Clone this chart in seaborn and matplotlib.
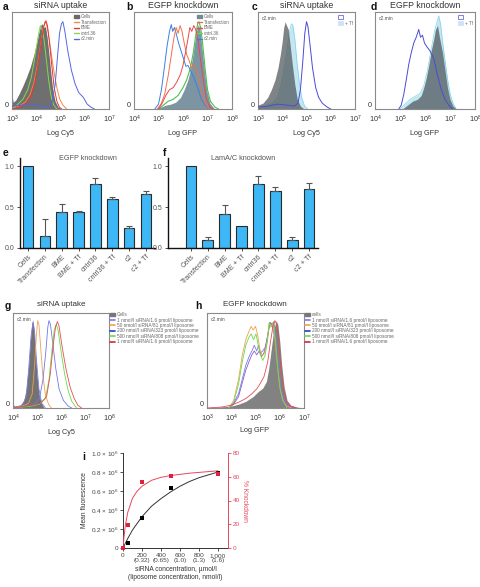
import numpy as np
import matplotlib
matplotlib.use("Agg")
import matplotlib.pyplot as plt
import seaborn as sns
from matplotlib.patches import Patch
from matplotlib.lines import Line2D
from matplotlib.ticker import NullLocator, LogLocator

# ---------------- data ----------------
# Histogram curves: (log10 intensity, relative count)
a_cells = [(3.0, 0.14), (3.05, 0.07), (3.15, 0.09), (3.3, 0.16), (3.45, 0.24), (3.6, 0.33), (3.75, 0.43),
           (3.9, 0.56), (4.0, 0.66), (4.1, 0.78), (4.18, 0.86), (4.24, 0.88), (4.3, 0.84), (4.38, 0.85),
           (4.45, 0.74), (4.52, 0.58), (4.6, 0.38), (4.68, 0.2), (4.78, 0.08), (4.9, 0.02), (5.05, 0.0)]
a_transfection = [(3.0, 0.0), (3.3, 0.03), (3.55, 0.07), (3.75, 0.15), (3.9, 0.27), (4.05, 0.45), (4.18, 0.66),
                  (4.28, 0.82), (4.36, 0.9), (4.42, 0.88), (4.5, 0.78), (4.6, 0.6), (4.72, 0.4), (4.85, 0.22),
                  (4.97, 0.1), (5.1, 0.04), (5.25, 0.0)]
a_bme = [(3.0, 0.0), (3.3, 0.02), (3.6, 0.06), (3.8, 0.14), (3.95, 0.28), (4.1, 0.5), (4.22, 0.72), (4.32, 0.86),
         (4.4, 0.91), (4.46, 0.86), (4.54, 0.7), (4.64, 0.45), (4.74, 0.22), (4.85, 0.08), (4.95, 0.02), (5.05, 0.0)]
a_cntrl36 = [(3.0, 0.0), (3.2, 0.04), (3.45, 0.1), (3.65, 0.2), (3.8, 0.33), (3.92, 0.5), (4.02, 0.66), (4.1, 0.78),
             (4.17, 0.86), (4.24, 0.82), (4.32, 0.72), (4.42, 0.5), (4.52, 0.28), (4.62, 0.12), (4.72, 0.04), (4.85, 0.0)]
a_c2min = [(3.0, 0.03), (3.4, 0.04), (3.8, 0.04), (4.2, 0.03), (4.5, 0.02), (4.65, 0.06), (4.78, 0.25), (4.88, 0.55),
           (4.96, 0.78), (5.04, 0.88), (5.1, 0.9), (5.18, 0.8), (5.3, 0.6), (5.45, 0.4), (5.6, 0.26), (5.75, 0.17),
           (5.94, 0.12), (6.1, 0.05), (6.25, 0.02), (6.4, 0.0)]

b_cells = [(4.9, 0.0), (5.1, 0.02), (5.3, 0.04), (5.5, 0.05), (5.7, 0.07), (5.9, 0.12), (6.05, 0.2), (6.2, 0.3),
           (6.3, 0.4), (6.4, 0.55), (6.5, 0.72), (6.58, 0.84), (6.63, 0.87), (6.7, 0.8), (6.78, 0.62), (6.88, 0.38),
           (6.98, 0.18), (7.1, 0.06), (7.25, 0.01), (7.4, 0.0)]
b_cntrl36 = [(5.0, 0.0), (5.2, 0.04), (5.4, 0.08), (5.6, 0.1), (5.8, 0.14), (6.0, 0.22), (6.15, 0.3), (6.3, 0.42),
             (6.42, 0.58), (6.52, 0.76), (6.6, 0.88), (6.65, 0.9), (6.72, 0.84), (6.8, 0.68), (6.9, 0.42), (7.0, 0.2),
             (7.12, 0.08), (7.3, 0.02), (7.45, 0.0)]
b_c2min = [(4.85, 0.0), (5.0, 0.05), (5.12, 0.2), (5.25, 0.45), (5.35, 0.65), (5.45, 0.8), (5.52, 0.87), (5.58, 0.8),
           (5.65, 0.84), (5.72, 0.78), (5.82, 0.68), (5.92, 0.6), (6.02, 0.52), (6.12, 0.44), (6.2, 0.45), (6.3, 0.4),
           (6.45, 0.32), (6.6, 0.22), (6.75, 0.1), (6.9, 0.04), (7.05, 0.0)]
b_transfection = [(4.95, 0.0), (5.1, 0.05), (5.25, 0.15), (5.4, 0.35), (5.52, 0.55), (5.62, 0.72), (5.72, 0.84),
                  (5.8, 0.78), (5.88, 0.86), (5.96, 0.8), (6.05, 0.68), (6.15, 0.56), (6.25, 0.5), (6.35, 0.42),
                  (6.45, 0.45), (6.55, 0.4), (6.65, 0.3), (6.78, 0.15), (6.9, 0.06), (7.05, 0.0)]
b_bme = [(5.0, 0.0), (5.15, 0.06), (5.3, 0.14), (5.45, 0.2), (5.6, 0.22), (5.75, 0.28), (5.9, 0.36), (6.0, 0.45),
         (6.1, 0.58), (6.2, 0.72), (6.28, 0.84), (6.36, 0.8), (6.44, 0.86), (6.52, 0.82), (6.62, 0.7), (6.72, 0.5),
         (6.84, 0.28), (6.96, 0.1), (7.1, 0.02), (7.25, 0.0)]

c_cells = [(3.0, 0.04), (3.2, 0.06), (3.4, 0.12), (3.55, 0.2), (3.7, 0.3), (3.82, 0.42), (3.92, 0.56), (4.0, 0.7),
           (4.06, 0.84), (4.12, 0.9), (4.18, 0.86), (4.25, 0.82), (4.33, 0.65), (4.42, 0.45), (4.52, 0.25),
           (4.62, 0.1), (4.75, 0.03), (4.9, 0.0)]
c_tf = [(3.0, 0.0), (3.3, 0.02), (3.6, 0.06), (3.8, 0.12), (3.95, 0.25), (4.08, 0.42), (4.2, 0.62), (4.3, 0.8),
        (4.38, 0.88), (4.44, 0.86), (4.52, 0.72), (4.6, 0.5), (4.7, 0.28), (4.8, 0.12), (4.92, 0.03), (5.05, 0.0)]
c_c2min = [(3.0, 0.02), (3.4, 0.03), (3.8, 0.05), (4.2, 0.04), (4.5, 0.03), (4.65, 0.06), (4.75, 0.2), (4.85, 0.5),
           (4.93, 0.78), (5.0, 0.9), (5.06, 0.85), (5.15, 0.65), (5.25, 0.42), (5.38, 0.22), (5.5, 0.12),
           (5.65, 0.06), (5.85, 0.02), (6.0, 0.0)]

d_cells = [(5.1, 0.0), (5.3, 0.04), (5.5, 0.08), (5.7, 0.1), (5.85, 0.14), (5.95, 0.22), (6.05, 0.32), (6.15, 0.45),
           (6.25, 0.6), (6.35, 0.72), (6.42, 0.82), (6.5, 0.86), (6.58, 0.74), (6.7, 0.58), (6.8, 0.4), (6.9, 0.22),
           (7.0, 0.1), (7.12, 0.03), (7.25, 0.0)]
d_tf = [(5.0, 0.0), (5.2, 0.05), (5.4, 0.1), (5.6, 0.13), (5.8, 0.16), (5.95, 0.24), (6.1, 0.4), (6.25, 0.62),
        (6.38, 0.8), (6.48, 0.9), (6.55, 0.96), (6.62, 0.88), (6.72, 0.66), (6.82, 0.46), (6.92, 0.28),
        (7.02, 0.14), (7.12, 0.06), (7.25, 0.0)]
d_c2min = [(4.95, 0.0), (5.05, 0.04), (5.15, 0.15), (5.25, 0.3), (5.35, 0.46), (5.45, 0.58), (5.55, 0.68),
           (5.65, 0.74), (5.75, 0.82), (5.82, 0.74), (5.9, 0.76), (5.98, 0.68), (6.08, 0.64), (6.2, 0.6),
           (6.35, 0.52), (6.5, 0.35), (6.65, 0.2), (6.8, 0.1), (6.95, 0.04), (7.1, 0.0)]

g_cells = [(4.0, 0.05), (4.05, 0.02), (4.3, 0.03), (4.45, 0.08), (4.55, 0.2), (4.65, 0.45), (4.72, 0.7), (4.78, 0.88),
           (4.82, 0.93), (4.87, 0.85), (4.93, 0.6), (5.0, 0.35), (5.08, 0.15), (5.18, 0.05), (5.3, 0.0)]
g_1nmol = [(4.0, 0.0), (4.4, 0.03), (4.55, 0.12), (4.65, 0.4), (4.75, 0.75), (4.83, 0.9), (4.9, 0.8), (4.98, 0.5),
           (5.08, 0.2), (5.2, 0.05), (5.35, 0.0)]
g_50nmol = [(4.0, 0.0), (4.4, 0.02), (4.65, 0.05), (4.8, 0.15), (4.9, 0.45), (4.97, 0.75), (5.03, 0.92), (5.08, 0.88),
            (5.15, 0.65), (5.24, 0.35), (5.35, 0.14), (5.48, 0.04), (5.6, 0.0)]
g_200nmol = [(4.0, 0.0), (4.6, 0.02), (4.9, 0.04), (5.1, 0.1), (5.25, 0.3), (5.37, 0.6), (5.45, 0.85), (5.5, 0.92),
             (5.56, 0.88), (5.65, 0.7), (5.78, 0.42), (5.92, 0.2), (6.1, 0.08), (6.3, 0.02), (6.45, 0.0)]
g_500nmol = [(4.0, 0.0), (4.8, 0.02), (5.1, 0.04), (5.35, 0.1), (5.5, 0.3), (5.62, 0.6), (5.72, 0.82), (5.8, 0.88),
             (5.88, 0.82), (6.0, 0.6), (6.15, 0.36), (6.3, 0.18), (6.45, 0.07), (6.65, 0.0)]
g_1umol = [(4.0, 0.0), (4.8, 0.03), (5.15, 0.05), (5.4, 0.12), (5.55, 0.35), (5.67, 0.65), (5.77, 0.85), (5.85, 0.91),
           (5.92, 0.86), (6.05, 0.64), (6.2, 0.42), (6.38, 0.22), (6.55, 0.1), (6.7, 0.03), (6.86, 0.0)]

h_cells = [(3.0, 0.0), (3.5, 0.01), (4.0, 0.02), (4.3, 0.04), (4.6, 0.07), (4.9, 0.12), (5.1, 0.17), (5.3, 0.21),
           (5.45, 0.28), (5.55, 0.42), (5.65, 0.62), (5.75, 0.82), (5.85, 0.92), (5.92, 0.88), (6.0, 0.7),
           (6.08, 0.45), (6.18, 0.22), (6.3, 0.08), (6.45, 0.03), (6.7, 0.01), (7.0, 0.0)]
h_1nmol = [(3.9, 0.0), (4.1, 0.05), (4.3, 0.15), (4.45, 0.3), (4.6, 0.45), (4.75, 0.55), (4.85, 0.6), (4.95, 0.66),
           (5.05, 0.6), (5.12, 0.66), (5.2, 0.58), (5.3, 0.6), (5.4, 0.64), (5.5, 0.76), (5.6, 0.9), (5.68, 0.88),
           (5.76, 0.91), (5.85, 0.7), (5.95, 0.4), (6.05, 0.2), (6.2, 0.08), (6.4, 0.02), (6.6, 0.0)]
h_50nmol = [(3.9, 0.0), (4.1, 0.08), (4.3, 0.3), (4.45, 0.55), (4.6, 0.72), (4.72, 0.8), (4.82, 0.86), (4.9, 0.82),
            (5.0, 0.86), (5.08, 0.78), (5.18, 0.62), (5.28, 0.55), (5.38, 0.58), (5.48, 0.7), (5.56, 0.9),
            (5.64, 0.85), (5.72, 0.9), (5.8, 0.72), (5.9, 0.45), (6.0, 0.22), (6.12, 0.08), (6.3, 0.02), (6.5, 0.0)]
h_200nmol = [(3.9, 0.0), (4.1, 0.04), (4.3, 0.12), (4.45, 0.26), (4.6, 0.4), (4.75, 0.5), (4.85, 0.56), (4.95, 0.6),
             (5.05, 0.56), (5.15, 0.6), (5.25, 0.54), (5.35, 0.58), (5.45, 0.68), (5.55, 0.84), (5.62, 0.9),
             (5.7, 0.86), (5.8, 0.74), (5.9, 0.48), (6.0, 0.24), (6.15, 0.08), (6.35, 0.02), (6.55, 0.0)]
h_500nmol = [(3.9, 0.0), (4.1, 0.06), (4.3, 0.25), (4.45, 0.48), (4.6, 0.66), (4.72, 0.74), (4.82, 0.78), (4.92, 0.72),
             (5.02, 0.78), (5.1, 0.68), (5.2, 0.56), (5.3, 0.5), (5.4, 0.56), (5.5, 0.72), (5.58, 0.9), (5.66, 0.86),
             (5.74, 0.9), (5.82, 0.72), (5.92, 0.42), (6.02, 0.2), (6.15, 0.07), (6.3, 0.0)]
h_1umol = [(3.0, 0.0), (3.6, 0.01), (4.0, 0.03), (4.3, 0.06), (4.6, 0.1), (4.85, 0.15), (5.05, 0.2), (5.2, 0.26),
           (5.35, 0.33), (5.5, 0.48), (5.62, 0.7), (5.72, 0.86), (5.8, 0.92), (5.88, 0.88), (5.96, 0.68),
           (6.05, 0.42), (6.15, 0.2), (6.28, 0.07), (6.45, 0.02), (6.7, 0.0)]

# Bar charts
bar_labels = ["Cells", "Transfection", "BME", "BME + Tf", "cntrl36", "cntrl36 + Tf", "c2", "c2 + Tf"]
e_values = [1.00, 0.15, 0.44, 0.44, 0.78, 0.60, 0.24, 0.66]
e_errors = [0.00, 0.21, 0.10, 0.01, 0.08, 0.02, 0.03, 0.04]
f_values = [1.00, 0.10, 0.41, 0.27, 0.78, 0.70, 0.10, 0.72]
f_errors = [0.00, 0.04, 0.12, 0.00, 0.10, 0.04, 0.04, 0.08]

# Dose response (panel i)
i_conc = [0, 50, 200, 500, 1000]
i_fluor = [0.0, 0.05e6, 0.32e6, 0.63e6, 0.79e6]
i_knock = [0, 19, 56, 61, 62]
i_fit_x = [0, 25, 50, 100, 200, 300, 400, 500, 600, 700, 800, 900, 1000]
i_fit_fluor = [0.0, 0.05e6, 0.10e6, 0.19e6, 0.33e6, 0.44e6, 0.52e6, 0.59e6, 0.65e6, 0.70e6, 0.74e6, 0.77e6, 0.80e6]
i_fit_kx = [0, 10, 25, 50, 100, 150, 200, 300, 400, 500, 700, 1000]
i_fit_knock = [0, 9, 19, 30, 42, 48, 52, 57, 59.5, 61, 63, 65]
i_xtick_labels = ["0", "200\n(0.32)", "400\n(0.65)", "600\n(1.0)", "800\n(1.3)", "1,000\n(1.6)"]

# ---------------- styling ----------------
sns.set_style("ticks")
plt.rcParams['font.family'] = ['Liberation Sans', 'DejaVu Sans']
plt.rcParams['mathtext.fontset'] = 'custom'
plt.rcParams['mathtext.rm'] = 'Liberation Sans'
plt.rcParams['mathtext.it'] = 'Liberation Sans:italic'
plt.rcParams['mathtext.bf'] = 'Liberation Sans:bold'
plt.rcParams['axes.unicode_minus'] = False

W, H = 480, 587
fig = plt.figure(figsize=(W / 100, H / 100), dpi=100)


def box(x0, y0, x1, y1):
    return fig.add_axes([x0 / W, 1 - y1 / H, (x1 - x0) / W, (y1 - y0) / H])


def curve(pts):
    x = 10 ** np.array([p[0] for p in pts])
    y = np.array([p[1] for p in pts])
    return x, y


def draw_fill(ax, pts, fc, alpha, ec=None, z=1):
    x, y = curve(pts)
    ax.fill_between(x, 0, y, color=fc, alpha=alpha, lw=0, zorder=z)
    if ec:
        sns.lineplot(x=x, y=y, ax=ax, color=ec, lw=0.5, estimator=None, sort=False, zorder=z + 0.1)


def draw_line(ax, pts, color, lw=0.7, z=3):
    x, y = curve(pts)
    sns.lineplot(x=x, y=y, ax=ax, color=color, lw=lw, estimator=None, sort=False, zorder=z)


def style_hist(ax, lo, hi, minor=False):
    ax.set_xscale('log')
    ax.set_xlim(10.0 ** lo, 10.0 ** hi)
    ax.set_ylim(0, 1)
    ax.set_xticks([10.0 ** k for k in range(lo, hi + 1)])
    ax.set_xticklabels([rf'$10^{{{k}}}$' for k in range(lo, hi + 1)])
    if minor:
        ax.xaxis.set_minor_locator(LogLocator(base=10, subs=np.arange(2, 10)))
        ax.tick_params(axis='x', which='minor', direction='in', length=1.5, width=0.4, color='#777')
    else:
        ax.xaxis.set_minor_locator(NullLocator())
    ax.set_yticks([0])
    ax.set_yticklabels(['0'])
    ax.tick_params(which='major', length=0, labelsize=5.2, colors='#333')
    ax.tick_params(axis='x', which='major', pad=3.2)
    ax.tick_params(axis='y', which='major', pad=2.5)
    for lbl in ax.get_yticklabels():
        lbl.set_va('bottom')
    for s in ax.spines.values():
        s.set_color('#8a8a8a')
        s.set_linewidth(0.8)
    ax.set_xlabel('')
    ax.set_ylabel('')


def fig_text(x, y, s, **kw):
    fig.text(x / W, 1 - y / H, s, **kw)


def letter(x, y, s):
    fig_text(x, y, s, fontsize=7.5, fontweight='bold', ha='left', va='center', color='#111')


small_leg = dict(frameon=False, fontsize=3.3, labelcolor='#666', handlelength=1.1, handleheight=0.6,
                 labelspacing=0.12, handletextpad=0.4, borderpad=0.2, borderaxespad=0.3)

# ---------------- panel a ----------------
ax = box(12, 12, 109, 109)
draw_fill(ax, a_cells, '#5f5f5f', 0.9, z=1)
draw_line(ax, a_cntrl36, '#86d84c')
draw_line(ax, a_transfection, '#f28a3c')
draw_line(ax, a_bme, '#e8333a')
draw_line(ax, a_c2min, '#5566e6')
style_hist(ax, 3, 7)
ax.legend(handles=[Patch(color='#6a6a6a'), Line2D([], [], color='#f28a3c', lw=1),
                   Line2D([], [], color='#e8333a', lw=1), Line2D([], [], color='#86d84c', lw=1),
                   Line2D([], [], color='#5566e6', lw=1)],
          labels=['Cells', 'Transfection', 'BME', 'cntrl.36', 'c2.min'], loc='upper right', **small_leg)
letter(3, 7, 'a')
fig_text(60.5, 5, 'siRNA uptake', fontsize=6.3, ha='center', va='center', color='#333')
fig_text(60.5, 133, 'Log Cy5', fontsize=5.2, ha='center', va='center', color='#333')

# ---------------- panel b ----------------
ax = box(134, 12, 232, 109)
draw_fill(ax, b_cells, '#6f8a99', 0.9, z=1)
draw_line(ax, b_cntrl36, '#4cbf4c', lw=0.8)
draw_line(ax, b_c2min, '#3a80e0')
draw_line(ax, b_transfection, '#f2704a')
draw_line(ax, b_bme, '#e84850')
style_hist(ax, 4, 8)
ax.legend(handles=[Patch(color='#6f8a99'), Line2D([], [], color='#f2704a', lw=1),
                   Line2D([], [], color='#e84850', lw=1), Line2D([], [], color='#6ad060', lw=1),
                   Line2D([], [], color='#3a80e0', lw=1)],
          labels=['Cells', 'Transfection', 'BME', 'cntrl.36', 'c2.min'], loc='upper right', **small_leg)
letter(126, 7, 'b')
fig_text(183, 5, 'EGFP knockdown', fontsize=6.3, ha='center', va='center', color='#333')
fig_text(183, 133, 'Log GFP', fontsize=5.2, ha='center', va='center', color='#333')

# ---------------- panels c, d ----------------
cd_leg = dict(frameon=False, fontsize=3.3, labelcolor='#666', handlelength=1.0, handleheight=1.0,
              labelspacing=0.3, handletextpad=0.4, borderpad=0.2, borderaxespad=0.3)
for (x0, x1, lo, hi, cells, tf, c2, lab, title, xl, lx) in [
        (258, 355, 3, 7, c_cells, c_tf, c_c2min, 'c', 'siRNA uptake', 'Log Cy5', 252),
        (375, 475, 4, 8, d_cells, d_tf, d_c2min, 'd', 'EGFP knockdown', 'Log GFP', 371)]:
    ax = box(x0, 12, x1, 109)
    draw_fill(ax, tf, '#c3e6f2', 1.0, ec='#7fd4e8', z=1)
    draw_fill(ax, cells, '#4e5558', 0.72, z=2)
    draw_line(ax, c2, '#4a4ad8', lw=0.7)
    style_hist(ax, lo, hi)
    ax.legend(handles=[Patch(facecolor='white', edgecolor='#6a6ae0', lw=0.6),
                       Patch(facecolor='#cfe3f6', edgecolor='#cfe3f6', lw=0.6)],
              labels=[' ', '+ Tf'], loc='upper right', **cd_leg)
    ax.text(0.04, 0.955, 'c2.min', transform=ax.transAxes, fontsize=3.6, color='#555', ha='left', va='top')
    letter(lx, 7, lab)
    fig_text((x0 + x1) / 2, 5, title, fontsize=6.3, ha='center', va='center', color='#333')
    fig_text((x0 + x1) / 2, 133, xl, fontsize=5.2, ha='center', va='center', color='#333')


# ---------------- panels e, f ----------------
def bar_panel(ax, values, errors, xlim, title):
    sns.barplot(x=bar_labels, y=values, ax=ax, color='#3db7f5', width=0.64, edgecolor='#2b2b2b',
                linewidth=0.8, saturation=1)
    idx = [k for k, e in enumerate(errors) if e > 0]
    ax.errorbar(idx, [values[k] for k in idx], yerr=[np.zeros(len(idx)), [errors[k] for k in idx]],
                fmt='none', ecolor='#555', elinewidth=0.8, capsize=2, capthick=0.8, zorder=1)
    ax.set_xlim(*xlim)
    ax.set_ylim(0, 1.1)
    ax.set_yticks([0, 0.5, 1.0])
    ax.set_yticklabels(['0.0', '0.5', '1.0'])
    ax.tick_params(length=2, width=0.6, labelsize=5, colors='#333', labelcolor='#555', pad=2)
    for lbl in ax.get_xticklabels():
        lbl.set_rotation(45)
        lbl.set_ha('right')
        lbl.set_rotation_mode('anchor')
    sns.despine(ax=ax)
    for s in ['left', 'bottom']:
        ax.spines[s].set_color('#111')
        ax.spines[s].set_linewidth(1.0)
    ax.set_xlabel('')
    ax.set_ylabel('')
    ax.text(0.5, 1.0, title, transform=ax.transAxes, ha='center', va='center', fontsize=5.2, color='#555')


ax = box(20, 158, 155, 248)
bar_panel(ax, e_values, e_errors, (-0.48, 7.54), 'EGFP knockdown')
letter(3, 153, 'e')
ax = box(168, 158, 318, 248)
bar_panel(ax, f_values, f_errors, (-1.36, 7.53), 'LamA/C knockdown')
letter(163, 153, 'f')

# ---------------- panels g, h ----------------
gh_leg = dict(frameon=False, fontsize=3.4, labelcolor='#666', handlelength=1.1, handleheight=0.6,
              labelspacing=0.1, handletextpad=0.4, borderpad=0.0, borderaxespad=0.0)
conc_labels = ['1 nmol/l siRNA/1.6 pmol/l liposome', '50 nmol/l siRNA/81 pmol/l liposome',
               '200 nmol/l siRNA/323 pmol/l liposome', '500 nmol/l siRNA/808 pmol/l liposome',
               '1 nmol/l siRNA/1.6 pmol/l liposome']
conc_colors = ['#7b7be6', '#f0a050', '#2b3cc8', '#66dd44', '#e0203a']

ax = box(13, 313, 109, 408)
draw_fill(ax, g_cells, '#666666', 0.92, z=2)
for pts, c in zip([g_1nmol, g_50nmol, g_200nmol, g_500nmol, g_1umol],
                  ['#7b7be6', '#f0a050', '#6f78e8', '#66dd44', '#e84a55']):
    draw_line(ax, pts, c, lw=0.6)
style_hist(ax, 4, 8, minor=True)
ax.text(0.04, 0.955, 'c2.min', transform=ax.transAxes, fontsize=3.6, color='#555', ha='left', va='top')
ax.legend(handles=[Patch(color='#777')] + [Line2D([], [], color=c, lw=1.2) for c in conc_colors],
          labels=['Cells'] + conc_labels, loc='upper left', bbox_to_anchor=(1.01, 1.01), **gh_leg)
letter(5, 306, 'g')
fig_text(61, 305, 'siRNA uptake', fontsize=5.8, ha='center', va='center', color='#333')
fig_text(61, 432, 'Log Cy5', fontsize=5.2, ha='center', va='center', color='#333')

ax = box(207, 313, 304, 408)
draw_fill(ax, h_cells, '#777777', 0.92, z=2)
for pts, c in zip([h_1nmol, h_200nmol, h_50nmol, h_500nmol, h_1umol],
                  ['#7b7be6', '#8a5ad8', '#f0a050', '#66dd44', '#e84a55']):
    draw_line(ax, pts, c, lw=0.6)
style_hist(ax, 3, 7, minor=True)
ax.text(0.04, 0.955, 'c2.min', transform=ax.transAxes, fontsize=3.6, color='#555', ha='left', va='top')
ax.legend(handles=[Patch(color='#777')] + [Line2D([], [], color=c, lw=1.2) for c in conc_colors],
          labels=['cells'] + conc_labels, loc='upper left', bbox_to_anchor=(1.01, 1.01), **gh_leg)
letter(195, 306, 'h')
fig_text(255, 305, 'EGFP knockdown', fontsize=5.8, ha='center', va='center', color='#333')
fig_text(255, 430, 'Log GFP', fontsize=5.2, ha='center', va='center', color='#333')

# ---------------- panel i ----------------
red = '#e8475e'
ax = box(123, 453, 228, 548)
sns.lineplot(x=i_fit_x, y=i_fit_fluor, ax=ax, color='#333', lw=0.7, estimator=None, sort=False)
sns.scatterplot(x=i_conc, y=i_fluor, ax=ax, marker='s', s=5, color='black', linewidth=0, clip_on=False, zorder=5)
ax.set_xlim(0, 1105)
ax.set_ylim(0, 1.0e6)
ax.set_yticks([0, 0.2e6, 0.4e6, 0.6e6, 0.8e6, 1.0e6])
ax.set_yticklabels(['0'] + [rf'{v:.1f} × 10$^6$' for v in [0.2, 0.4, 0.6, 0.8, 1.0]])
ax.set_xticks([0, 200, 400, 600, 800, 1000])
ax.set_xticklabels(i_xtick_labels, linespacing=1.1)
ax.tick_params(length=2, width=0.6, labelsize=4.6, colors='#333', labelcolor='#444', pad=1.5)
ax.set_ylabel('Mean fluorescence', fontsize=4.8, color='#333', labelpad=2)
ax.set_xlabel('siRNA concentration, µmol/l\n(liposome concentration, nmol/l)', fontsize=4.8,
              color='#333', labelpad=2, linespacing=1.2)
for s in ['top', 'right']:
    ax.spines[s].set_visible(False)
for s in ['left', 'bottom']:
    ax.spines[s].set_color('#333')
    ax.spines[s].set_linewidth(0.7)

ax2 = ax.twinx()
sns.lineplot(x=i_fit_kx, y=i_fit_knock, ax=ax2, color=red, lw=0.7, estimator=None, sort=False)
sns.scatterplot(x=i_conc, y=i_knock, ax=ax2, marker='s', s=5, color='#e0203f', linewidth=0, clip_on=False, zorder=6)
ax2.set_ylim(0, 80)
ax2.set_yticks([0, 20, 40, 60, 80])
ax2.tick_params(length=2, width=0.6, labelsize=4.6, colors=red, labelcolor=red, pad=1.5)
ax2.set_ylabel('% Knockdown', fontsize=4.8, color=red, rotation=270, labelpad=6)
for s in ['top', 'left', 'bottom']:
    ax2.spines[s].set_visible(False)
ax2.spines['right'].set_color(red)
ax2.spines['right'].set_linewidth(0.7)
letter(82, 457, 'i')

fig.savefig('out.png', dpi=100)
